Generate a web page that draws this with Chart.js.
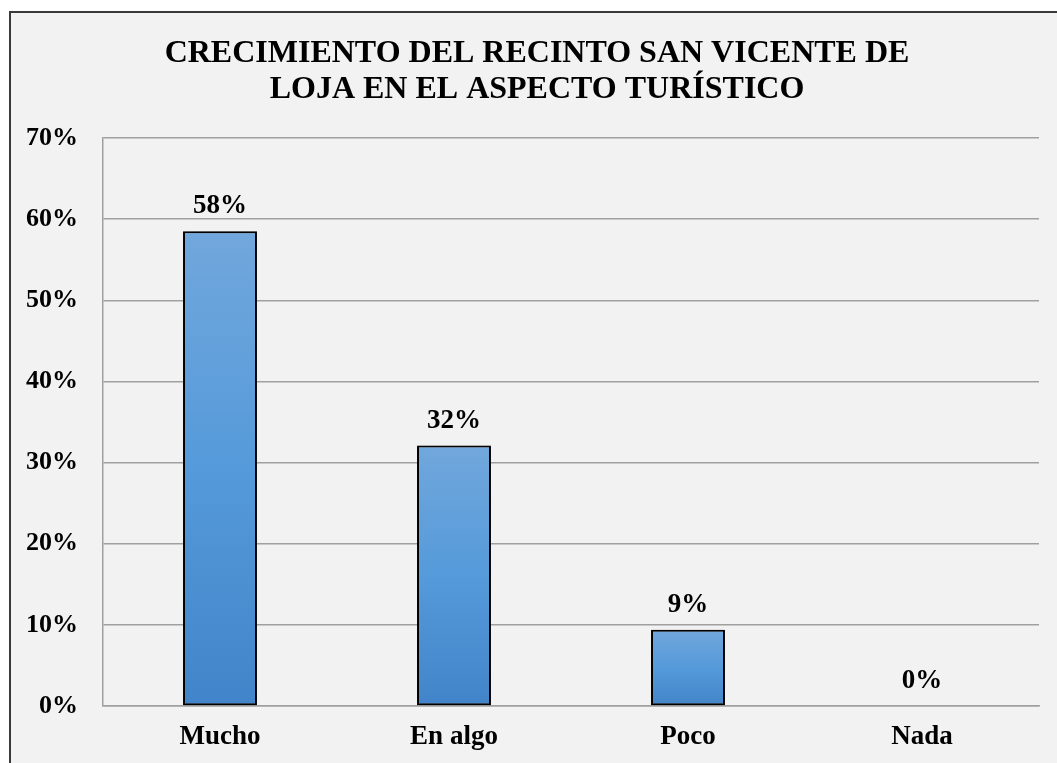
<!DOCTYPE html>
<html>
<head>
<meta charset="utf-8">
<script src="https://cdn.jsdelivr.net/npm/chart.js@4"></script>
<style>
  html, body { margin: 0; padding: 0; background: #ffffff; overflow: hidden; }
  #frame { position: absolute; left: 9px; top: 11px; width: 1100px; height: 800px;
           border: 2px solid #3a3a3a; background: #f2f2f2; }
  #c { position: absolute; left: 0; top: 0; }
</style>
</head>
<body>
<div id="frame"></div>
<canvas id="c" width="1057" height="763"></canvas>
<script>
const titleLines = ['CRECIMIENTO DEL RECINTO SAN VICENTE DE', 'LOJA EN EL ASPECTO TURÍSTICO'];
const categories = ['Mucho', 'En algo', 'Poco', 'Nada'];
const values = [58.5, 32.1, 9.4, 0];
const dataLabels = ['58%', '32%', '9%', '0%'];
const yTicks = [0, 10, 20, 30, 40, 50, 60, 70];

const FONT = "'Liberation Serif', 'Times New Roman', serif";

function barGradient(ctx) {
  const chart = ctx.chart;
  const y = chart.scales && chart.scales.y;
  if (!y || !chart.chartArea || ctx.dataIndex === undefined) return '#5b9bd5';
  const v = ctx.dataset.data[ctx.dataIndex];
  const top = y.getPixelForValue(v);
  const bottom = y.getPixelForValue(0);
  if (!(bottom > top)) return '#5b9bd5';
  const g = chart.ctx.createLinearGradient(0, top, 0, bottom);
  g.addColorStop(0, '#71a7dc');
  g.addColorStop(0.5, '#559ada');
  g.addColorStop(1, '#4284c9');
  return g;
}

const titlePlugin = {
  id: 'twoLineTitle',
  afterDraw(chart) {
    const c = chart.ctx;
    c.save();
    c.font = 'bold 32px ' + FONT;
    c.fillStyle = '#000000';
    c.textAlign = 'center';
    c.textBaseline = 'alphabetic';
    c.fillText(titleLines[0], 537, 62);
    c.fillText(titleLines[1], 537, 98);
    c.restore();
  }
};

const shadowPlugin = {
  id: 'barShadow',
  beforeDatasetsDraw(chart) {
    const c = chart.ctx;
    c.save();
    c.shadowColor = 'rgba(0,0,0,0.35)';
    c.shadowBlur = 6;
    c.shadowOffsetX = 1;
    c.shadowOffsetY = 1;
  },
  afterDatasetsDraw(chart) {
    chart.ctx.restore();
  }
};

const labelPlugin = {
  id: 'valueLabels',
  afterDraw(chart) {
    const c = chart.ctx;
    const meta = chart.getDatasetMeta(0);
    c.save();
    c.font = 'bold 27px ' + FONT;
    c.fillStyle = '#000000';
    c.textAlign = 'center';
    c.textBaseline = 'alphabetic';
    meta.data.forEach((el, i) => {
      c.fillText(dataLabels[i], el.x, el.y - 18);
    });
    c.restore();
  }
};

new Chart(document.getElementById('c'), {
  type: 'bar',
  data: {
    labels: categories,
    datasets: [{
      data: values,
      backgroundColor: barGradient,
      borderColor: '#000000',
      borderWidth: 2,
      borderSkipped: false,
      barPercentage: 0.316,
      categoryPercentage: 1.0
    }]
  },
  options: {
    responsive: false,
    animation: false,
    layout: { padding: { left: 0, right: 18, top: 138, bottom: 0 } },
    plugins: {
      legend: { display: false },
      tooltip: { enabled: false },
      title: { display: false }
    },
    scales: {
      x: {
        grid: { display: false, drawTicks: false },
        border: { display: true, color: '#a0a0a0', width: 1.5 },
        ticks: { color: '#000000', padding: 15, font: { family: FONT, size: 27, weight: 'bold' } },
        afterFit(s) { s.height = 57; }
      },
      y: {
        min: 0,
        max: 70,
        afterBuildTicks(s) { s.ticks = yTicks.map(v => ({ value: v })); },
        grid: { color: '#a0a0a0', lineWidth: 1.5, drawTicks: false },
        border: { display: true, color: '#a0a0a0', width: 1.5 },
        ticks: {
          color: '#000000',
          padding: 25,
          font: { family: FONT, size: 26, weight: 'bold' },
          callback: v => v + '%'
        },
        afterFit(s) { s.width = 103; }
      }
    }
  },
  plugins: [shadowPlugin, labelPlugin, titlePlugin]
});
</script>
</body>
</html>
